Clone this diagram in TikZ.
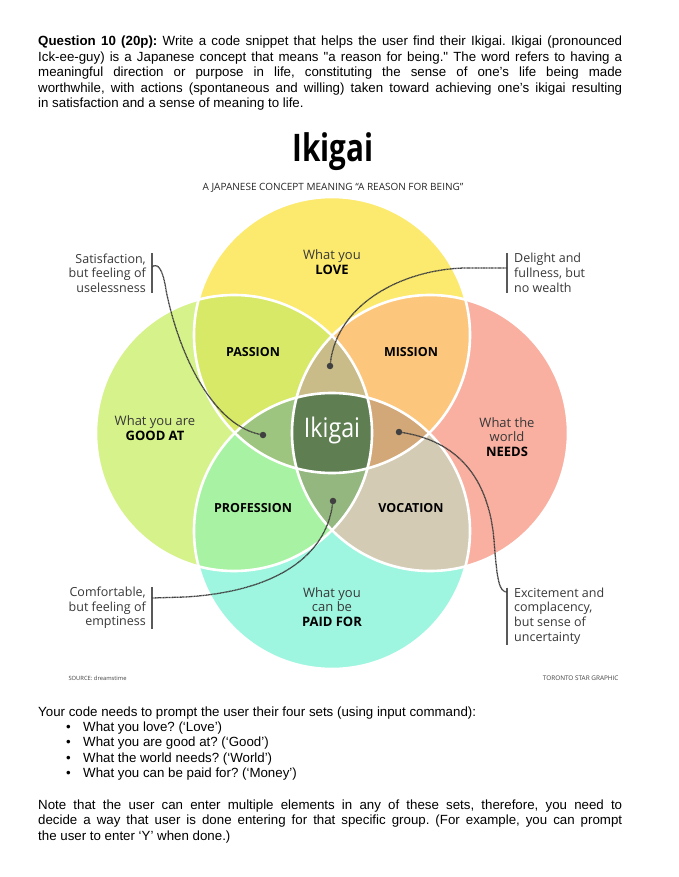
\documentclass[tikz,border=0pt]{standalone}
\usepackage{fontspec}
\setmainfont{Liberation Sans}
\newfontfamily\graphfont{Open Sans}
\newfontfamily\titlefont{Open Sans}[FakeStretch=0.78]
\newfontfamily\centrefont{Open Sans}[FakeStretch=0.86]
\usetikzlibrary{positioning}

\definecolor{loveC}{RGB}{252,234,110}
\definecolor{goodC}{RGB}{214,242,138}
\definecolor{needsC}{RGB}{249,176,161}
\definecolor{paidC}{RGB}{158,246,224}
\definecolor{passionC}{RGB}{216,233,104}
\definecolor{missionC}{RGB}{252,199,125}
\definecolor{professionC}{RGB}{167,242,163}
\definecolor{vocationC}{RGB}{212,203,180}
\definecolor{upLensC}{RGB}{201,188,136}
\definecolor{leftLensC}{RGB}{158,197,127}
\definecolor{rightLensC}{RGB}{211,168,121}
\definecolor{lowLensC}{RGB}{148,182,127}
\definecolor{ikigaiC}{RGB}{95,127,83}

\newcommand{\ikR}{138pt}
\newcommand{\hl}[1]{{\bfseries\color{black}#1}}
\newcommand{\plainspace}{\spaceskip=0pt\xspaceskip=0pt\frenchspacing}
\newcommand{\fullline}[1]{\makebox[584pt][s]{#1}}

\begin{document}
\begin{tikzpicture}[x=1pt,y=-1pt,
    ring/.style={draw=white,line width=2.6pt},
    region label/.style={font=\graphfont\bfseries\fontsize{12.5}{14}\selectfont},
    circle label/.style={font=\graphfont\fontsize{13}{14.5}\selectfont,text=black!78,align=center},
    side label/.style={font=\graphfont\fontsize{12.5}{14.7}\selectfont,text=black!78,inner sep=0pt},
    side bar/.style={draw=black!65,line width=1.6pt},
    lead line/.style={draw=black!75,line width=1.3pt,dash pattern=on 1.1pt off 0.45pt},
    lead dot/.style={circle,fill=black!75,inner sep=0pt,minimum size=6.5pt},
    body text/.style={font=\fontsize{13.3}{15.5}\selectfont,inner sep=0pt,align=left}]

  \fill[white] (0,0) rectangle (679,877);
  \useasboundingbox (0,0) rectangle (679,877);

  % question text
  \node[body text,text width=584pt,anchor=base west] (question) at (38,46)
    {\plainspace
     \fullline{\textbf{Question 10 (20p):} Write a code snippet that helps the user find their Ikigai. Ikigai (pronounced}\\
     \fullline{Ick-ee-guy) is a Japanese concept that means \textquotedbl a reason for being.\textquotedbl{} The word refers to having a}\\
     \fullline{meaningful direction or purpose in life, constituting the sense of one's life being made}\\
     \fullline{worthwhile, with actions (spontaneous and willing) taken toward achieving one's ikigai resulting}\\
     in satisfaction and a sense of meaning to life.};

  % title
  \node[font=\titlefont\bfseries\fontsize{38}{40}\selectfont,anchor=base] (title) at (333,162) {Ikigai};
  \node[font=\graphfont\fontsize{10}{11}\selectfont,text=black!85,anchor=base] (subtitle) at (333,191)
    {A JAPANESE CONCEPT MEANING “A REASON FOR BEING”};

  % centres of the four circles
  \coordinate (love)  at (332,335);
  \coordinate (good)  at (234,433);
  \coordinate (needs) at (430,433);
  \coordinate (paid)  at (332,531);

  \fill[loveC]  (love)  circle[radius=\ikR];
  \fill[goodC]  (good)  circle[radius=\ikR];
  \fill[needsC] (needs) circle[radius=\ikR];
  \fill[paidC]  (paid)  circle[radius=\ikR];

  % two circles
  \begin{scope}
    \clip (love) circle[radius=\ikR];
    \fill[passionC] (good)  circle[radius=\ikR];
    \fill[missionC] (needs) circle[radius=\ikR];
  \end{scope}
  \begin{scope}
    \clip (paid) circle[radius=\ikR];
    \fill[professionC] (good)  circle[radius=\ikR];
    \fill[vocationC]   (needs) circle[radius=\ikR];
  \end{scope}

  % three circles
  \begin{scope}
    \clip (love) circle[radius=\ikR];
    \clip (good) circle[radius=\ikR];
    \fill[upLensC]   (needs) circle[radius=\ikR];
    \fill[leftLensC] (paid)  circle[radius=\ikR];
  \end{scope}
  \begin{scope}
    \clip (love)  circle[radius=\ikR];
    \clip (needs) circle[radius=\ikR];
    \fill[rightLensC] (paid) circle[radius=\ikR];
  \end{scope}
  \begin{scope}
    \clip (good)  circle[radius=\ikR];
    \clip (needs) circle[radius=\ikR];
    \fill[lowLensC] (paid) circle[radius=\ikR];
  \end{scope}

  % all four
  \begin{scope}
    \clip (love)  circle[radius=\ikR];
    \clip (good)  circle[radius=\ikR];
    \clip (needs) circle[radius=\ikR];
    \fill[ikigaiC] (paid) circle[radius=\ikR];
  \end{scope}

  \foreach \c in {love,good,needs,paid}
    \draw[ring] (\c) circle[radius=\ikR];

  % labels in the circles
  \node[circle label] (loveTxt)  at (332,262) {What you\\\hl{LOVE}};
  \node[circle label] (goodTxt)  at (155,428) {What you are\\\hl{GOOD AT}};
  \node[circle label] (needsTxt) at (507,437) {What the\\world\\\hl{NEEDS}};
  \node[circle label] (paidTxt)  at (332,607) {What you\\can be\\\hl{PAID FOR}};

  \node[region label] (passion)    at (253,352) {PASSION};
  \node[region label] (mission)    at (411,352) {MISSION};
  \node[region label] (profession) at (253,508) {PROFESSION};
  \node[region label] (vocation)   at (411,508) {VOCATION};

  \node[font=\centrefont\fontsize{27}{30}\selectfont,text=white] (ikigai) at (332,430) {Ikigai};

  % dots in the lenses
  \node[lead dot] (dotLeft)  at (263,435) {};
  \node[lead dot] (dotUp)    at (330,366) {};
  \node[lead dot] (dotRight) at (399,432) {};
  \node[lead dot] (dotLow)   at (333,501) {};

  % side notes
  \node[side label,align=right,anchor=east] (satis)   at (146,273) {Satisfaction,\\but feeling of\\uselessness};
  \node[side label,align=left,anchor=west]  (delight) at (514,273) {Delight and\\fullness, but\\no wealth};
  \node[side label,align=right,anchor=east] (comfort) at (146,608) {Comfortable,\\but feeling of\\emptiness};
  \node[side label,align=left,anchor=west]  (excite)  at (514,616) {Excitement and\\complacency,\\but sense of\\uncertainty};

  \draw[side bar] ([xshift=6pt]satis.north east) -- ([xshift=6pt]satis.south east);
  \draw[side bar] ([xshift=-7pt]delight.north west) -- ([xshift=-7pt]delight.south west);
  \draw[side bar] ([xshift=6pt]comfort.north east) -- ([xshift=6pt]comfort.south east);
  \draw[side bar] ([xshift=-7pt]excite.north west) -- ([xshift=-7pt]excite.south west);

  \coordinate (satisPin)   at (152,267);
  \coordinate (delightPin) at (507,268);
  \coordinate (comfortPin) at (152,598);
  \coordinate (excitePin)  at (507,592);

  \draw[lead line] (satisPin) .. controls (158,262) and (163,270) .. (166,290)
    .. controls (180,360) and (215,425) .. (dotLeft);
  \draw[lead line] (delightPin) -- (475,268) .. controls (410,266) and (338,300) .. (dotUp);
  \draw[lead line] (comfortPin) -- (185,597) .. controls (270,592) and (325,560) .. (dotLow);
  \draw[lead line] (dotRight) .. controls (450,440) and (488,470) .. (494,540)
    .. controls (497,580) and (499,592) .. (excitePin);

  % footer of the graphic
  \node[font=\graphfont\fontsize{5.8}{7}\selectfont,text=black!75,anchor=base west] (source) at (65,680) {SOURCE: dreamstime};
  \node[font=\graphfont\fontsize{6.4}{7}\selectfont,text=black!75,anchor=base east] (credit) at (622,680) {TORONTO STAR GRAPHIC};

  % task text
  \node[body text,anchor=base west] (prompt) at (38,716)
    {\plainspace Your code needs to prompt the user their four sets (using input command):};
  \node[body text,text width=450pt,anchor=base west] (sets) at (66,731)
    {\plainspace
     \makebox[17pt][l]{•}What you love? (‘Love’)\\
     \makebox[17pt][l]{•}What you are good at? (‘Good’)\\
     \makebox[17pt][l]{•}What the world needs? (‘World’)\\
     \makebox[17pt][l]{•}What you can be paid for? (‘Money’)};
  \node[body text,text width=584pt,anchor=base west] (note) at (38,809)
    {\plainspace
     \fullline{Note that the user can enter multiple elements in any of these sets, therefore, you need to}\\
     \fullline{decide a way that user is done entering for that specific group. (For example, you can prompt}\\
     the user to enter ‘Y’ when done.)};
\end{tikzpicture}
\end{document}
